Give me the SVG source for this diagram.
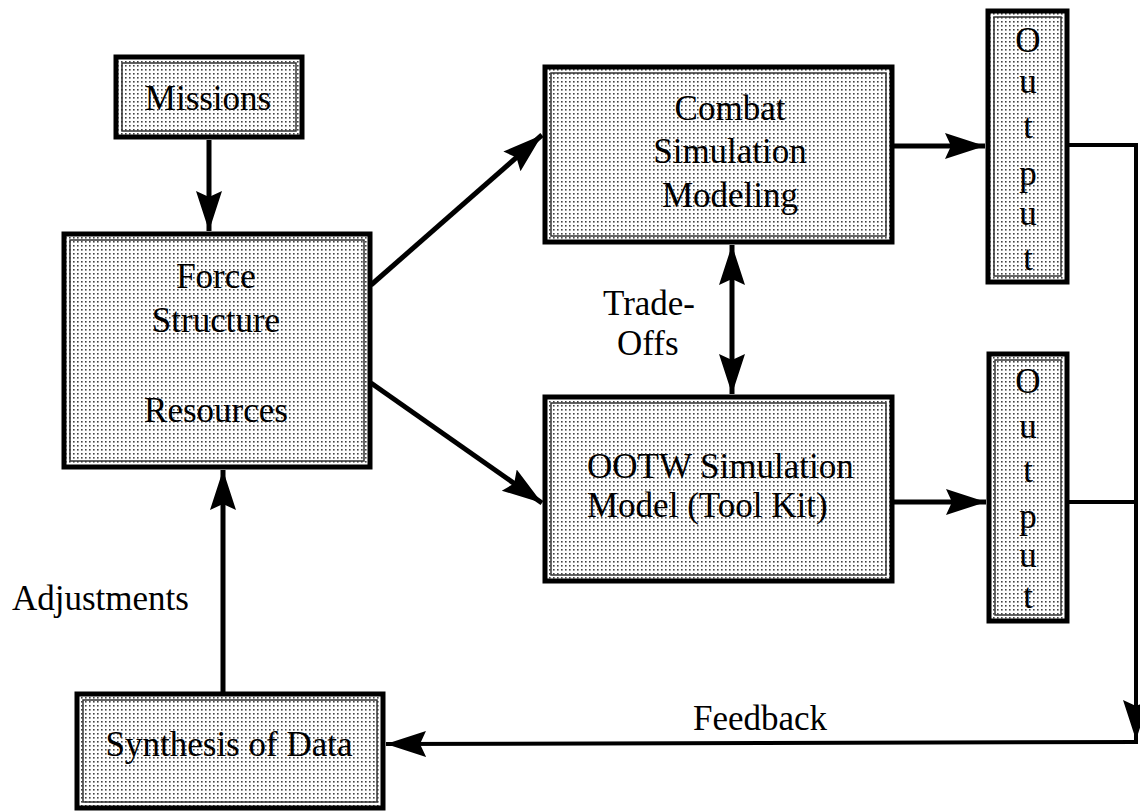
<svg xmlns="http://www.w3.org/2000/svg" width="1140" height="811" viewBox="0 0 1140 811">
<style>
.outer{fill:url(#dots);stroke:#000;stroke-width:5}
.inner{fill:none;stroke:#333;stroke-width:1.5}
.t{font-family:"Liberation Serif","Times New Roman",serif;font-size:35px;fill:#000}
.c{text-anchor:middle}
.ln{fill:none;stroke:#000;stroke-width:5}
.fb{fill:none;stroke:#000;stroke-width:4}
</style>
<defs>
<pattern id="dots" x="0" y="0" width="4" height="4" patternUnits="userSpaceOnUse">
<rect width="4" height="4" fill="#fff"/>
<rect x="1" y="1" width="1.6" height="1.6" fill="#444"/>
</pattern>
<marker id="ah" markerUnits="userSpaceOnUse" markerWidth="42" markerHeight="28" viewBox="0 -14 42 28" refX="40" refY="0" orient="auto-start-reverse">
<path d="M0,-13 L40,0 L0,13 L6,0 z" fill="#000"/>
</marker>
</defs>

<g id="connectors">
<line class="ln" x1="209" y1="140" x2="209" y2="231" marker-end="url(#ah)"/>
<line class="ln" x1="371" y1="285" x2="542" y2="135" marker-end="url(#ah)"/>
<line class="ln" x1="371" y1="383" x2="542" y2="503" marker-end="url(#ah)"/>
<line class="ln" x1="894" y1="146" x2="985" y2="146" marker-end="url(#ah)"/>
<line class="ln" x1="894" y1="502" x2="986" y2="502" marker-end="url(#ah)"/>
<line class="ln" x1="732" y1="245" x2="732" y2="394" marker-start="url(#ah)" marker-end="url(#ah)"/>
<line class="ln" x1="223" y1="692" x2="223" y2="470" marker-end="url(#ah)"/>
<polyline class="fb" points="1069,145 1136,145 1136,740" marker-end="url(#ah)"/>
<line class="fb" x1="1069" y1="502" x2="1136" y2="502"/>
<line class="fb" x1="1138" y1="742" x2="386" y2="744" marker-end="url(#ah)"/>
<text class="t" x="603" y="315">Trade-</text>
<text class="t" x="617" y="355">Offs</text>
<text class="t" x="12" y="610">Adjustments</text>
<text class="t" x="693" y="730">Feedback</text>
</g>

<g id="missions">
<rect class="outer" x="116" y="57" width="186" height="80"/>
<rect class="inner" x="122" y="63" width="174" height="68"/>
<text class="t c" x="208" y="110">Missions</text>
</g>

<g id="force">
<rect class="outer" x="64" y="234" width="306" height="233"/>
<rect class="inner" x="70" y="240" width="294" height="221"/>
<text class="t c" x="216" y="288">Force</text>
<text class="t c" x="216" y="332">Structure</text>
<text class="t c" x="216" y="422">Resources</text>
</g>

<g id="combat">
<rect class="outer" x="545" y="67" width="347" height="175"/>
<rect class="inner" x="551" y="73" width="335" height="163"/>
<text class="t c" x="730" y="120">Combat</text>
<text class="t c" x="730" y="163">Simulation</text>
<text class="t c" x="730" y="207">Modeling</text>
</g>

<g id="ootw">
<rect class="outer" x="545" y="397" width="347" height="184"/>
<rect class="inner" x="551" y="403" width="335" height="172"/>
<text class="t" x="587" y="478">OOTW Simulation</text>
<text class="t" x="587" y="517">Model (Tool Kit)</text>
</g>

<g id="output1">
<rect class="outer" x="988" y="11" width="79" height="271"/>
<rect class="inner" x="994" y="17" width="67" height="259"/>
<text class="t c" x="1028" y="52">O</text>
<text class="t c" x="1028" y="93">u</text>
<text class="t c" x="1028" y="138">t</text>
<text class="t c" x="1028" y="185">p</text>
<text class="t c" x="1028" y="225">u</text>
<text class="t c" x="1028" y="270">t</text>
</g>

<g id="output2">
<rect class="outer" x="989" y="354" width="78" height="267"/>
<rect class="inner" x="995" y="360" width="66" height="255"/>
<text class="t c" x="1028" y="393">O</text>
<text class="t c" x="1028" y="438">u</text>
<text class="t c" x="1028" y="482">t</text>
<text class="t c" x="1028" y="528">p</text>
<text class="t c" x="1028" y="567">u</text>
<text class="t c" x="1028" y="608">t</text>
</g>

<g id="synthesis">
<rect class="outer" x="77" y="694" width="306" height="114"/>
<rect class="inner" x="83" y="700" width="294" height="102"/>
<text class="t c" x="229" y="756">Synthesis of Data</text>
</g>
</svg>
